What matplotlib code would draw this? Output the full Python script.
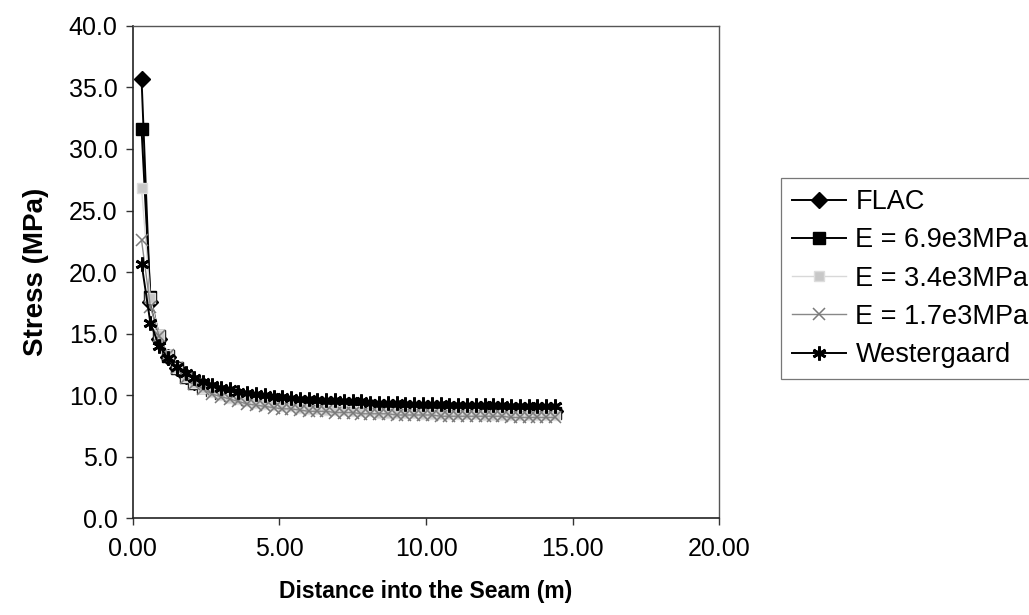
import matplotlib
matplotlib.use('Agg')
import matplotlib.pyplot as plt

plt.rcParams['font.family'] = ['Liberation Sans', 'DejaVu Sans']

# distance into the seam (m)
dist = [0.3, 0.6, 0.9, 1.2, 1.5, 1.8, 2.1, 2.4,
        2.7, 3.0, 3.3, 3.6, 3.9, 4.2, 4.5, 4.8,
        5.1, 5.4, 5.7, 6.0, 6.3, 6.6, 6.9, 7.2,
        7.5, 7.8, 8.1, 8.4, 8.7, 9.0, 9.3, 9.6,
        9.9, 10.2, 10.5, 10.8, 11.1, 11.4, 11.7, 12.0,
        12.3, 12.6, 12.9, 13.2, 13.5, 13.8, 14.1, 14.4]

flac = [35.7, 17.6, 14.6, 13.1, 12.2, 11.6, 11.1, 10.8,
        10.5, 10.3, 10.1, 10.0, 9.9, 9.7, 9.6, 9.6,
        9.5, 9.4, 9.4, 9.3, 9.3, 9.2, 9.2, 9.2,
        9.1, 9.1, 9.1, 9.0, 9.0, 9.0, 9.0, 8.9,
        8.9, 8.9, 8.9, 8.9, 8.9, 8.8, 8.8, 8.8,
        8.8, 8.8, 8.8, 8.8, 8.7, 8.7, 8.7, 8.7]

e69 = [31.6, 18.0, 14.8, 13.2, 12.2, 11.5, 11.0, 10.7,
       10.4, 10.2, 10.0, 9.9, 9.7, 9.6, 9.5, 9.4,
       9.4, 9.3, 9.2, 9.2, 9.1, 9.1, 9.0, 9.0,
       9.0, 8.9, 8.9, 8.9, 8.9, 8.8, 8.8, 8.8,
       8.8, 8.8, 8.7, 8.7, 8.7, 8.7, 8.7, 8.7,
       8.6, 8.6, 8.6, 8.6, 8.6, 8.6, 8.6, 8.6]

e34 = [26.8, 17.9, 14.9, 13.3, 12.2, 11.5, 11.0, 10.6,
       10.3, 10.0, 9.8, 9.7, 9.5, 9.4, 9.3, 9.2,
       9.1, 9.1, 9.0, 8.9, 8.9, 8.8, 8.8, 8.8,
       8.7, 8.7, 8.7, 8.6, 8.6, 8.6, 8.6, 8.6,
       8.5, 8.5, 8.5, 8.5, 8.5, 8.5, 8.5, 8.4,
       8.4, 8.4, 8.4, 8.4, 8.4, 8.4, 8.4, 8.4]

e17 = [22.6, 17.2, 14.8, 13.3, 12.2, 11.4, 10.9, 10.5,
       10.1, 9.9, 9.7, 9.5, 9.3, 9.2, 9.1, 9.0,
       8.9, 8.9, 8.8, 8.7, 8.7, 8.7, 8.6, 8.6,
       8.6, 8.5, 8.5, 8.5, 8.5, 8.4, 8.4, 8.4,
       8.4, 8.4, 8.3, 8.3, 8.3, 8.3, 8.3, 8.3,
       8.3, 8.3, 8.2, 8.2, 8.2, 8.2, 8.2, 8.2]

west = [20.7, 15.9, 14.0, 13.0, 12.3, 11.8, 11.4, 11.1,
        10.8, 10.6, 10.5, 10.3, 10.2, 10.1, 10.0, 9.9,
        9.9, 9.8, 9.7, 9.7, 9.6, 9.6, 9.6, 9.5,
        9.5, 9.5, 9.4, 9.4, 9.4, 9.4, 9.3, 9.3,
        9.3, 9.3, 9.3, 9.2, 9.2, 9.2, 9.2, 9.2,
        9.2, 9.2, 9.1, 9.1, 9.1, 9.1, 9.1, 9.1]

fig = plt.figure(figsize=(10.29, 6.15), dpi=100)
ax = fig.add_axes([0.129, 0.157, 0.57, 0.801])

ax.plot(dist, flac, color='black', lw=1.4, marker='D', ms=8, mfc='black', mec='black', label='FLAC')
ax.plot(dist, e69, color='black', lw=1.4, marker='s', ms=8.5, mfc='black', mec='black', label='E = 6.9e3MPa')
ax.plot(dist, e34, color='#d8d8d8', lw=1.0, marker='s', ms=7, mfc='#c8c8c8', mec='#dddddd', label='E = 3.4e3MPa')
ax.plot(dist, e17, color='#888888', lw=1.0, marker='x', ms=9, mew=1.1, mec='#7a7a7a', label='E = 1.7e3MPa')
ax.plot(dist, west, color='black', lw=1.4, marker=(6, 2, 0), ms=10, mew=2.0, mec='black', label='Westergaard')

ax.set_xlim(0, 20)
ax.set_ylim(0, 40)
ax.set_xticks([0, 5, 10, 15, 20])
ax.set_xticklabels(['0.00', '5.00', '10.00', '15.00', '20.00'])
ax.set_yticks([0, 5, 10, 15, 20, 25, 30, 35, 40])
ax.set_yticklabels(['0.0', '5.0', '10.0', '15.0', '20.0', '25.0', '30.0', '35.0', '40.0'])
ax.tick_params(labelsize=18, direction='out', length=5, width=1, color='#333333')
ax.tick_params(axis='y', pad=6)
ax.tick_params(axis='x', pad=8)

for side in ['left', 'bottom']:
    ax.spines[side].set_color('#222222')
    ax.spines[side].set_linewidth(1.2)
for side in ['top', 'right']:
    ax.spines[side].set_color('#555555')
    ax.spines[side].set_linewidth(1.0)

ax.set_xlabel('Distance into the Seam (m)', fontsize=16.5, fontweight='bold', labelpad=14)
ax.set_ylabel('Stress (MPa)', fontsize=20, fontweight='bold', labelpad=14)

leg = fig.legend(loc='lower left', bbox_to_anchor=(0.759, 0.384), bbox_transform=fig.transFigure,
                 fontsize=19.5, frameon=True, fancybox=False, handlelength=2.0, handletextpad=0.35,
                 labelspacing=0.45, borderpad=0.4, borderaxespad=0)
leg.get_frame().set_edgecolor('#555555')
leg.get_frame().set_linewidth(0.9)

plt.savefig('out.png', dpi=100)
